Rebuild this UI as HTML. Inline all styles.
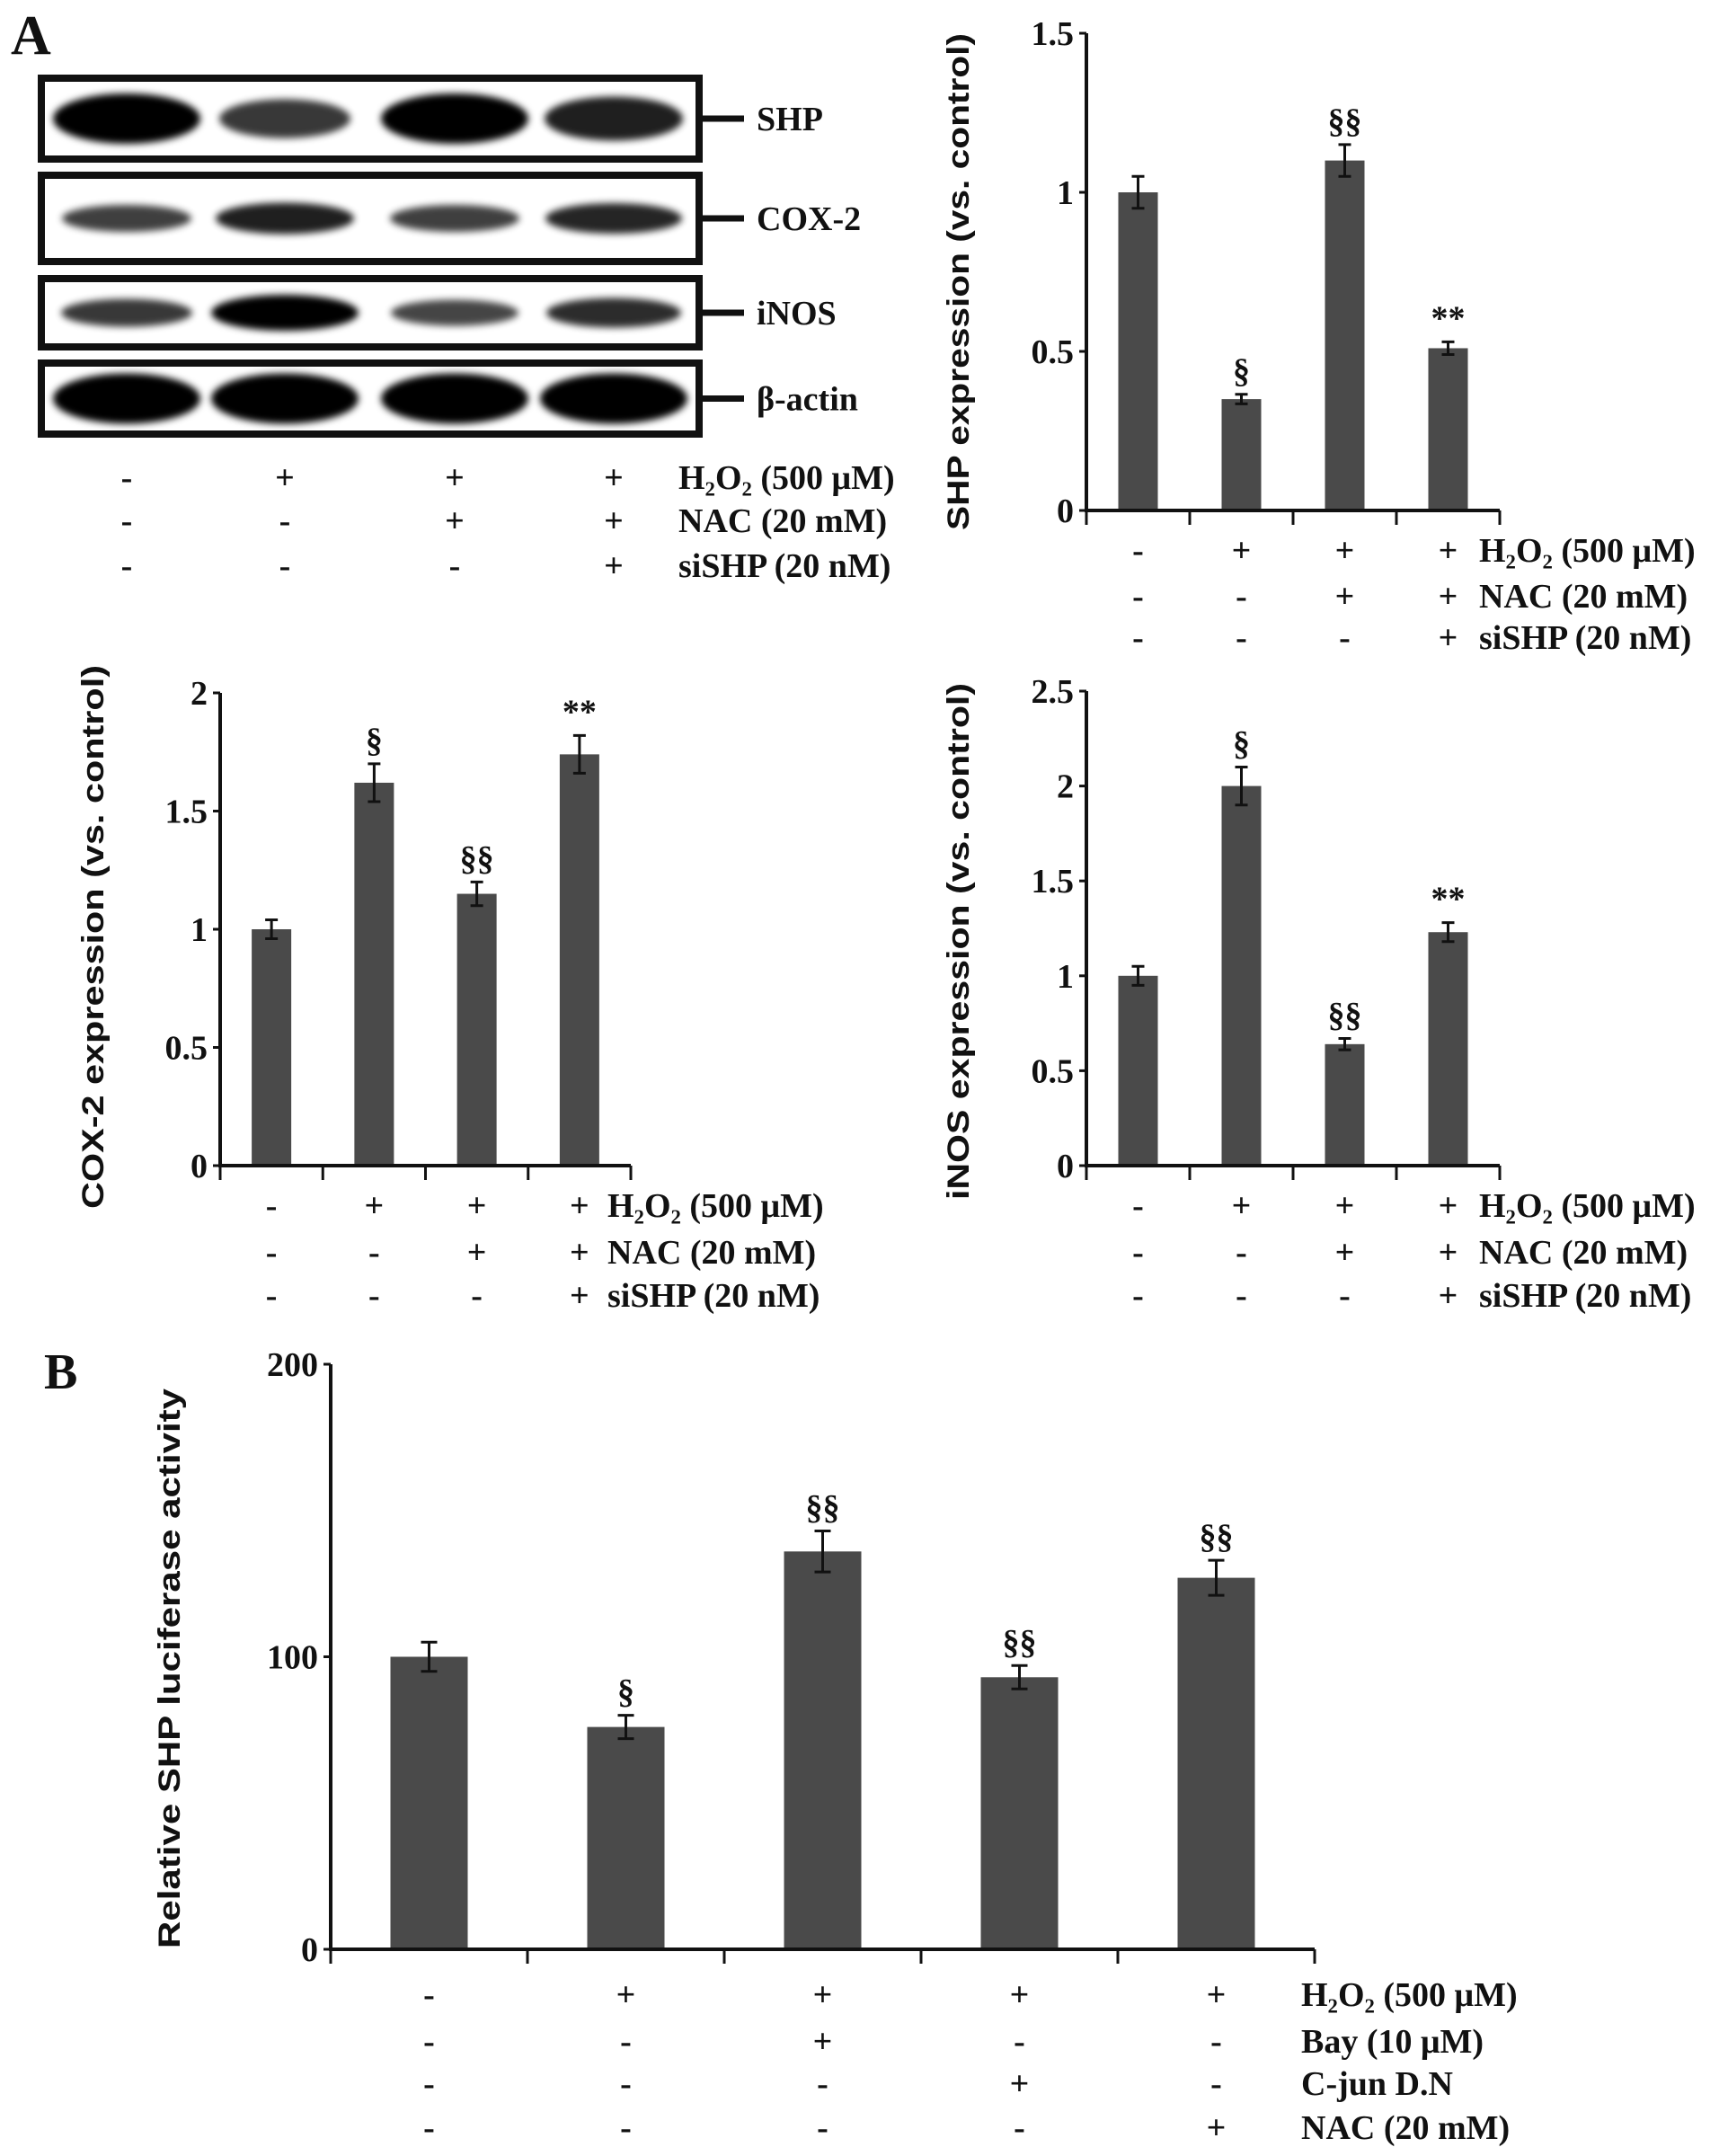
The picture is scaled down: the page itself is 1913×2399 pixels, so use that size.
<!DOCTYPE html>
<html><head><meta charset="utf-8"><style>
html,body{margin:0;padding:0;background:#fff;}
svg{display:block;}
text{font-family:"Liberation Serif",serif;font-weight:bold;fill:#111;}
.t{font-size:38px;}
.ttl{font-family:"Liberation Sans",sans-serif;font-size:34px;}
</style></head><body>
<svg id="fig" width="1913" height="2399" viewBox="0 0 1913 2399" xmlns="http://www.w3.org/2000/svg">
<defs><filter id="blur" x="-30%" y="-60%" width="160%" height="220%"><feGaussianBlur stdDeviation="4"/></filter></defs>
<text x="12" y="60" style="font-size:62px">A</text>
<text x="49" y="1545" style="font-size:56px">B</text>
<g id="blot"></g>
<g id="charts"></g>
</svg>
<script>
// ---- data ----
const shpValues=[1.0,0.35,1.1,0.51];
const shpErrors=[0.05,0.015,0.05,0.02];
const shpMarks=["","§","§§","**"];
const coxValues=[1.0,1.62,1.15,1.74];
const coxErrors=[0.04,0.08,0.05,0.08];
const coxMarks=["","§","§§","**"];
const inosValues=[1.0,2.0,0.64,1.23];
const inosErrors=[0.05,0.1,0.03,0.05];
const inosMarks=["","§","§§","**"];
const lucValues=[100,76,136,93,127];
const lucErrors=[5,4,7,4,6];
const lucMarks=["","§","§§","§§","§§"];
const shpTicks=["0","0.5","1","1.5"];
const coxTicks=["0","0.5","1","1.5","2"];
const inosTicks=["0","0.5","1","1.5","2","2.5"];
const lucTicks=["0","100","200"];
const condA=[["-","+","+","+"],["-","-","+","+"],["-","-","-","+"]];
const condALabels=["H₂O₂ (500 μM)","NAC (20 mM)","siSHP (20 nM)"];
const condB=[["-","+","+","+","+"],["-","-","+","-","-"],["-","-","-","+","-"],["-","-","-","-","+"]];
const condBLabels=["H₂O₂ (500 μM)","Bay (10 μM)","C-jun D.N","NAC (20 mM)"];
const blotNames=["SHP","COX-2","iNOS","β-actin"];
const blotIntensity=[[1,0.55,1,0.75],[0.5,0.75,0.5,0.7],[0.55,1,0.45,0.65],[1,1,1,1]];

const NS="http://www.w3.org/2000/svg";
const fig=document.getElementById('charts');
function el(tag,attrs,parent){const e=document.createElementNS(NS,tag);for(const k in attrs)e.setAttribute(k,attrs[k]);(parent||fig).appendChild(e);return e;}
function txt(x,y,s,cls,anchor,parent){const t=el('text',{x:x,y:y,'class':cls||'t','text-anchor':anchor||'start'},parent);t.textContent=s;return t;}

function chart(name,cfg,values,errors,marks,ticks,cond,condLabels){
  const g=el('g',{});
  
  
  const tmax=parseFloat(ticks[ticks.length-1]);
  const y=v=>cfg.y0-(v/tmax)*(cfg.y0-cfg.yTop);
  const n=values.length, step=(cfg.x1-cfg.x0)/n;
  const xc=i=>cfg.x0+step*(i+0.5);
  const cw=cfg.bw>60?9:7;
  values.forEach((v,i)=>{
    const b=el('rect',{x:xc(i)-cfg.bw/2,y:y(v),width:cfg.bw,height:cfg.y0-y(v),fill:'#4a4a4a'},g);
    
    
    const e=errors[i];
    const eb=el('path',{d:`M${xc(i)},${y(v+e)}V${y(v-e)}M${xc(i)-cw},${y(v+e)}h${2*cw}M${xc(i)-cw},${y(v-e)}h${2*cw}`,stroke:'#111','stroke-width':3,fill:'none'},g);
    
    
    if(marks[i]){const m=txt(xc(i),y(v+e)-14,marks[i],'t','middle',g);}
  });
  const ax=el('path',{d:`M${cfg.x0},${cfg.yTop}V${cfg.y0}H${cfg.x1}`,stroke:'#111','stroke-width':4,fill:'none'},g);
  
  
  for(let i=0;i<=n;i++){el('line',{x1:cfg.x0+step*i,x2:cfg.x0+step*i,y1:cfg.y0,y2:cfg.y0+16,stroke:'#111','stroke-width':3},g);}
  ticks.forEach(t=>{const v=parseFloat(t);el('line',{x1:cfg.x0-8,x2:cfg.x0,y1:y(v),y2:y(v),stroke:'#111','stroke-width':3},g);
    const tl=txt(cfg.x0-14,y(v)+13,t,'t','end',g);});
  const tt=el('text',{x:0,y:0,'class':'ttl','text-anchor':'middle',transform:`translate(${cfg.tx},${(cfg.t0+cfg.t1)/2}) rotate(-90)`,textLength:cfg.t1-cfg.t0,lengthAdjust:'spacingAndGlyphs'},g);
  tt.textContent=cfg.title;
  
  
  cond.forEach((row,r)=>{row.forEach((s,i)=>{txt(xc(i),cfg.rows[r],s,'t','middle',g);});
    const l=txt(cfg.lx,cfg.rows[r],condLabels[r],'t','start',g);});
}

chart('shp-expression-chart',{x0:1209,x1:1669,y0:568,yTop:37,bw:44,tx:1078,t0:37,t1:590,title:'SHP expression (vs. control)',rows:[625,676,722],lx:1646},shpValues,shpErrors,shpMarks,shpTicks,condA,condALabels);
chart('cox2-expression-chart',{x0:245,x1:702,y0:1297,yTop:771,bw:44,tx:115,t0:740,t1:1345,title:'COX-2 expression (vs. control)',rows:[1354,1406,1454],lx:676},coxValues,coxErrors,coxMarks,coxTicks,condA,condALabels);
chart('inos-expression-chart',{x0:1209,x1:1669,y0:1297,yTop:769,bw:44,tx:1078,t0:760,t1:1335,title:'iNOS expression (vs. control)',rows:[1354,1406,1454],lx:1646},inosValues,inosErrors,inosMarks,inosTicks,condA,condALabels);
chart('luciferase-chart',{x0:368,x1:1463,y0:2169,yTop:1518,bw:86,tx:200,t0:1545,t1:2168,title:'Relative SHP luciferase activity',rows:[2232,2284,2331,2380],lx:1448},lucValues,lucErrors,lucMarks,lucTicks,condB,condBLabels);

const blot=document.getElementById('blot');
const boxes=[[83,181],[191,295],[306,390],[400,487]];
const lanes=[141,317,506,683];
boxes.forEach((bx,r)=>{
  const cy=(bx[0]+bx[1])/2;
  lanes.forEach((lx,i)=>{
    const k=blotIntensity[r][i];
    const b=el('ellipse',{cx:lx,cy:cy,rx:62+20*k,ry:(r===0||r===3?14+14*k:10+10*k),fill:'#000',opacity:0.5+0.5*k,filter:'url(#blur)'},blot);
    
    
  });
  const rc=el('rect',{x:46,y:bx[0]+4,width:732,height:bx[1]-bx[0]-8,fill:'none',stroke:'#111','stroke-width':8},blot);
  
  
  el('line',{x1:782,x2:828,y1:cy,y2:cy,stroke:'#111','stroke-width':7},blot);
  const l=txt(842,cy+13,blotNames[r],'t','start',blot);
  
  
});
condA.forEach((row,r)=>{const yy=[544,592,642][r];row.forEach((s,i)=>txt(lanes[i],yy,s,'t','middle',blot));txt(755,yy,condALabels[r],'t','start',blot);});
</script>
</body></html>
